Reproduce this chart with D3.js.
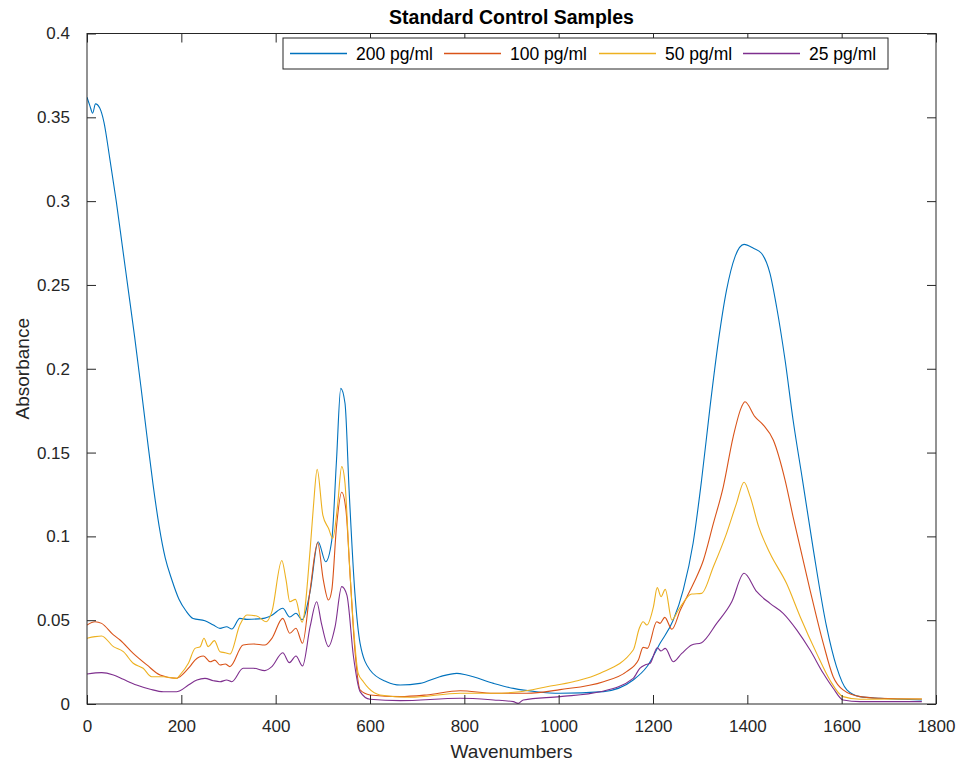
<!DOCTYPE html>
<html>
<head>
<meta charset="utf-8">
<script src="https://cdn.jsdelivr.net/npm/d3@7"></script>
<style>
  body { margin: 0; background: #fff; }
  svg { font-family: "Liberation Sans", Arial, sans-serif; }
</style>
</head>
<body>
<svg id="chart"></svg>
<script>
// wavenumber / absorbance readings for each sample
const wn200 = [0, 6, 12, 18, 27, 36, 48, 62, 75, 88, 101, 114, 127, 140, 153, 166, 180, 195, 210, 225, 250, 268, 282, 296, 307, 324, 339, 374, 392, 415, 430, 443, 456, 473, 490, 506, 519, 529, 538, 547, 556, 568, 579, 600, 635, 664, 706, 748, 784, 805, 862, 904, 953, 1003, 1095, 1158, 1187, 1215, 1243, 1264, 1285, 1303, 1321, 1339, 1356, 1374, 1393, 1413, 1430, 1448, 1462, 1480, 1497, 1517, 1540, 1568, 1589, 1611, 1639, 1682, 1770];
const abs200 = [0.362, 0.357, 0.3525, 0.358, 0.3555, 0.347, 0.326, 0.3, 0.273, 0.246, 0.219, 0.19, 0.16, 0.131, 0.106, 0.087, 0.074, 0.0625, 0.0555, 0.051, 0.0497, 0.0471, 0.0451, 0.0461, 0.0447, 0.0511, 0.0505, 0.0511, 0.053, 0.0571, 0.0519, 0.0541, 0.0503, 0.067, 0.0968, 0.0849, 0.0978, 0.1456, 0.1883, 0.1794, 0.1257, 0.066, 0.0362, 0.0203, 0.0133, 0.0113, 0.0123, 0.0163, 0.0183, 0.0173, 0.0123, 0.0093, 0.0073, 0.0064, 0.0074, 0.0143, 0.0222, 0.0362, 0.0501, 0.068, 0.0959, 0.1336, 0.1774, 0.2172, 0.247, 0.2669, 0.2742, 0.2719, 0.2689, 0.2569, 0.237, 0.2052, 0.1694, 0.1336, 0.0919, 0.0461, 0.0223, 0.0084, 0.0044, 0.0034, 0.0024];

const wn100 = [0, 17, 31, 56, 70, 98, 127, 155, 190, 197, 218, 229, 247, 261, 271, 282, 293, 303, 331, 353, 377, 392, 415, 430, 443, 457, 473, 489, 501, 512, 519, 529, 540, 549, 558, 568, 579, 600, 664, 720, 791, 862, 932, 1003, 1095, 1144, 1169, 1179, 1188, 1208, 1215, 1225, 1240, 1258, 1286, 1307, 1328, 1349, 1370, 1388, 1395, 1416, 1434, 1455, 1480, 1497, 1533, 1561, 1582, 1603, 1639, 1682, 1770];
const abs100 = [0.0471, 0.0491, 0.0481, 0.0412, 0.0382, 0.0302, 0.0233, 0.0173, 0.0153, 0.0163, 0.0223, 0.0262, 0.0286, 0.0252, 0.0262, 0.0233, 0.0239, 0.0223, 0.0352, 0.0358, 0.0352, 0.0392, 0.0511, 0.0422, 0.0452, 0.0362, 0.068, 0.0962, 0.074, 0.062, 0.068, 0.1058, 0.1263, 0.1157, 0.0759, 0.0322, 0.0084, 0.0054, 0.0044, 0.0054, 0.0079, 0.0064, 0.0064, 0.0086, 0.0133, 0.0193, 0.0262, 0.0338, 0.0332, 0.0491, 0.0481, 0.0517, 0.0446, 0.0561, 0.072, 0.0859, 0.1077, 0.1296, 0.1594, 0.1774, 0.1803, 0.1714, 0.1664, 0.1575, 0.1336, 0.1117, 0.068, 0.0362, 0.0163, 0.0084, 0.0044, 0.0034, 0.003];

const wn50 = [0, 17, 31, 56, 77, 98, 119, 137, 162, 190, 197, 215, 229, 240, 248, 257, 270, 282, 293, 303, 324, 339, 360, 380, 392, 413, 422, 430, 442, 456, 473, 480, 488, 500, 512, 521, 531, 540, 547, 556, 566, 575, 586, 597, 621, 685, 791, 862, 918, 975, 1031, 1088, 1158, 1171, 1179, 1187, 1201, 1209, 1217, 1226, 1240, 1254, 1282, 1303, 1328, 1356, 1377, 1393, 1406, 1424, 1448, 1483, 1512, 1547, 1575, 1603, 1639, 1770];
const abs50 = [0.0392, 0.0402, 0.0406, 0.0342, 0.0312, 0.0243, 0.0213, 0.0163, 0.0163, 0.0153, 0.0173, 0.0243, 0.0332, 0.0342, 0.0392, 0.0342, 0.0378, 0.0312, 0.0306, 0.0298, 0.0471, 0.0531, 0.0525, 0.0491, 0.0551, 0.0856, 0.074, 0.061, 0.0624, 0.0488, 0.0918, 0.1177, 0.14, 0.1127, 0.1048, 0.0988, 0.1177, 0.1416, 0.1317, 0.0859, 0.0422, 0.0183, 0.0133, 0.0094, 0.0054, 0.004, 0.0064, 0.0064, 0.0073, 0.0103, 0.0133, 0.0183, 0.0322, 0.0452, 0.0491, 0.0471, 0.0581, 0.0694, 0.064, 0.0684, 0.0501, 0.0561, 0.0656, 0.066, 0.0819, 0.1018, 0.1197, 0.1323, 0.1237, 0.1058, 0.0899, 0.072, 0.0521, 0.0302, 0.0143, 0.0044, 0.0028, 0.003];

const wn25 = [0, 31, 56, 77, 105, 134, 162, 190, 197, 215, 233, 250, 268, 282, 296, 307, 331, 353, 377, 392, 415, 429, 443, 457, 473, 487, 497, 512, 526, 540, 551, 565, 579, 600, 664, 791, 862, 904, 914, 925, 1003, 1088, 1158, 1172, 1183, 1194, 1209, 1217, 1226, 1243, 1261, 1282, 1303, 1335, 1367, 1393, 1420, 1448, 1476, 1505, 1533, 1561, 1582, 1603, 1639, 1770];
const abs25 = [0.0179, 0.0187, 0.0173, 0.0147, 0.0113, 0.0088, 0.0073, 0.0073, 0.0079, 0.0113, 0.0143, 0.0153, 0.0139, 0.0133, 0.0143, 0.0133, 0.0213, 0.0213, 0.0199, 0.0223, 0.0306, 0.0247, 0.0286, 0.0227, 0.0461, 0.061, 0.0481, 0.0342, 0.0461, 0.07, 0.065, 0.0282, 0.0074, 0.0028, 0.002, 0.0034, 0.0024, 0.0014, 0.0004, 0.0024, 0.0044, 0.0073, 0.0153, 0.0213, 0.0233, 0.0243, 0.0336, 0.0316, 0.0332, 0.0252, 0.0302, 0.0352, 0.0366, 0.0481, 0.061, 0.078, 0.067, 0.06, 0.0541, 0.0441, 0.0322, 0.0183, 0.0094, 0.0024, 0.0014, 0.0014];

const seriesNames = ["200 pg/ml", "100 pg/ml", "50 pg/ml", "25 pg/ml"];
const seriesColors = ["#0072BD", "#D95319", "#EDB120", "#7E2F8E"];
const xTicks = [0, 200, 400, 600, 800, 1000, 1200, 1400, 1600, 1800];
const yTicks = [0, 0.05, 0.1, 0.15, 0.2, 0.25, 0.3, 0.35, 0.4];

const series = [
    { name: seriesNames[0], color: seriesColors[0], values: wn200.map((w, i) => [w, abs200[i]]) },
    { name: seriesNames[1], color: seriesColors[1], values: wn100.map((w, i) => [w, abs100[i]]) },
    { name: seriesNames[2], color: seriesColors[2], values: wn50.map((w, i) => [w, abs50[i]]) },
    { name: seriesNames[3], color: seriesColors[3], values: wn25.map((w, i) => [w, abs25[i]]) }
];

const margin = { top: 33.5, right: 28, bottom: 63, left: 87 };
const totalW = 964, totalH = 767;
const width = totalW - margin.left - margin.right;
const height = totalH - margin.top - margin.bottom;
const axisColor = "#262626";
const tickLen = 9;

const svg = d3.select("#chart")
    .attr("width", totalW)
    .attr("height", totalH);

const g = svg.append("g")
    .attr("transform", `translate(${margin.left}, ${margin.top})`);

const xScale = d3.scaleLinear().domain([0, 1800]).range([0, width]);
const yScale = d3.scaleLinear().domain([0, 0.4]).range([height, 0]);

g.append("clipPath").attr("id", "plot-clip")
    .append("rect").attr("width", width).attr("height", height);

const line = d3.line()
    .x(d => xScale(d[0]))
    .y(d => yScale(d[1]))
    .curve(d3.curveMonotoneX);

g.append("g")
    .attr("clip-path", "url(#plot-clip)")
    .selectAll("path")
    .data(series)
    .join("path")
    .attr("d", d => line(d.values))
    .attr("fill", "none")
    .attr("stroke", d => d.color)
    .attr("stroke-width", 1.1)
    .attr("stroke-linejoin", "round");

// axes, MATLAB style: ticks point inward, box on all four sides
const styleAxis = sel => {
    sel.select(".domain").remove();
    sel.selectAll(".tick line").attr("stroke", axisColor).attr("stroke-width", 1);
    sel.selectAll(".tick text")
        .attr("fill", axisColor)
        .style("font-size", "17px")
        .style("font-family", "'Liberation Sans', Arial, sans-serif");
};

g.append("g")
    .attr("transform", `translate(0, ${height})`)
    .call(d3.axisBottom(xScale).tickValues(xTicks).tickFormat(d3.format("d"))
        .tickSizeInner(-tickLen).tickSizeOuter(0).tickPadding(tickLen + 7))
    .call(styleAxis);

g.append("g")
    .call(d3.axisTop(xScale).tickValues(xTicks).tickFormat("")
        .tickSizeInner(-tickLen).tickSizeOuter(0))
    .call(styleAxis);

g.append("g")
    .call(d3.axisLeft(yScale).tickValues(yTicks).tickFormat(d => d3.format("")(d))
        .tickSizeInner(-tickLen).tickSizeOuter(0).tickPadding(tickLen + 8))
    .call(styleAxis);

g.append("g")
    .attr("transform", `translate(${width}, 0)`)
    .call(d3.axisRight(yScale).tickValues(yTicks).tickFormat("")
        .tickSizeInner(-tickLen).tickSizeOuter(0))
    .call(styleAxis);

g.append("rect")
    .attr("width", width)
    .attr("height", height)
    .attr("fill", "none")
    .attr("stroke", axisColor)
    .attr("stroke-width", 1);

// labels
svg.append("text")
    .attr("x", margin.left + width / 2)
    .attr("y", 24)
    .attr("text-anchor", "middle")
    .attr("fill", "#000")
    .style("font-size", "19.5px")
    .style("font-weight", "bold")
    .text("Standard Control Samples");

svg.append("text")
    .attr("x", margin.left + width / 2)
    .attr("y", 758)
    .attr("text-anchor", "middle")
    .attr("fill", axisColor)
    .style("font-size", "19px")
    .text("Wavenumbers");

svg.append("text")
    .attr("transform", `translate(29, ${margin.top + height / 2}) rotate(-90)`)
    .attr("text-anchor", "middle")
    .attr("fill", axisColor)
    .style("font-size", "19px")
    .text("Absorbance");

// legend
const legendX = 283, legendY = 38, legendW = 605, legendH = 31;
const legend = svg.append("g").attr("transform", `translate(${legendX}, ${legendY})`);
legend.append("rect")
    .attr("width", legendW)
    .attr("height", legendH)
    .attr("fill", "#fff")
    .attr("stroke", axisColor)
    .attr("stroke-width", 1);

const itemX = [7, 161, 316, 460];
const items = legend.selectAll(".item")
    .data(series)
    .join("g")
    .attr("class", "item")
    .attr("transform", (d, i) => `translate(${itemX[i]}, ${legendH / 2})`);

items.append("line")
    .attr("x1", 0).attr("x2", 57)
    .attr("stroke", d => d.color)
    .attr("stroke-width", 1.3);

items.append("text")
    .attr("x", 66)
    .attr("dy", "0.35em")
    .attr("fill", "#000")
    .style("font-size", "17.5px")
    .text(d => d.name);
</script>
</body>
</html>
